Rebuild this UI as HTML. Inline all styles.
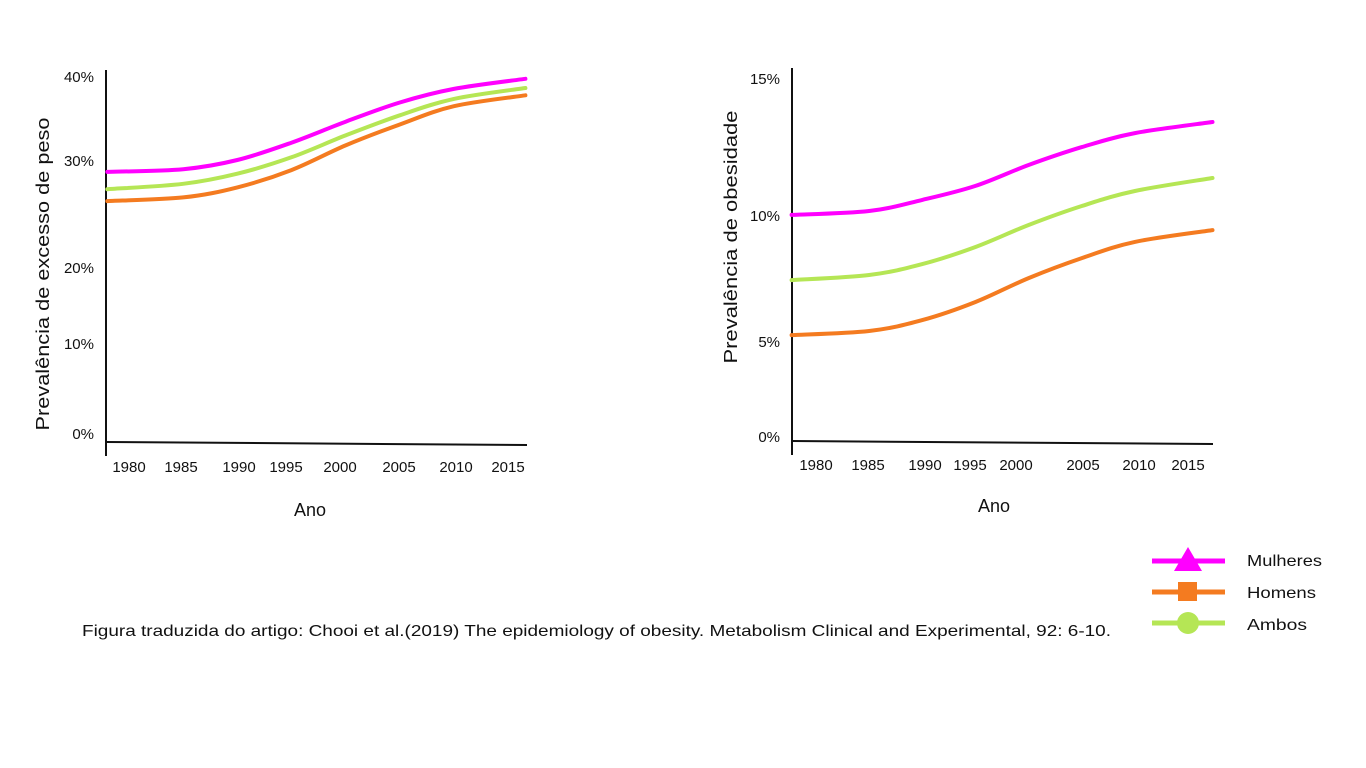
<!DOCTYPE html>
<html><head><meta charset="utf-8">
<style>
html,body{margin:0;padding:0;background:#fff;}
svg{display:block;font-family:"Liberation Sans",sans-serif;}
text{fill:#111;}
</style></head>
<body>
<svg id="chart" width="1366" height="768" viewBox="0 0 1366 768" xmlns="http://www.w3.org/2000/svg">
<g id="left"></g>
<g id="right"></g>
<g>
  <g>
    <line x1="1152" y1="561" x2="1225" y2="561" stroke="#ff00ff" stroke-width="5"/>
    <polygon points="1188,547 1202,571 1174,571" fill="#ff00ff"/>
    <text x="1247" y="566" font-size="16" textLength="75" lengthAdjust="spacingAndGlyphs">Mulheres</text>
  </g>
  <g>
    <line x1="1152" y1="592" x2="1225" y2="592" stroke="#f47b20" stroke-width="5"/>
    <rect x="1178" y="582" width="19" height="19" fill="#f47b20"/>
    <text x="1247" y="598" font-size="16" textLength="69" lengthAdjust="spacingAndGlyphs">Homens</text>
  </g>
  <g>
    <line x1="1152" y1="623" x2="1225" y2="623" stroke="#b5e655" stroke-width="5"/>
    <circle cx="1188" cy="623" r="11" fill="#b5e655"/>
    <text x="1247" y="630" font-size="16" textLength="60" lengthAdjust="spacingAndGlyphs">Ambos</text>
  </g>
</g>
<text x="82" y="636" font-size="16" textLength="1029" lengthAdjust="spacingAndGlyphs">Figura traduzida do artigo: Chooi et al.(2019) The epidemiology of obesity. Metabolism Clinical and Experimental, 92: 6-10.</text>
</svg>
<script>
const years = [1978, 1985, 1990, 1995, 2000, 2005, 2010, 2016.6];
const leftMulheres = [29.6, 29.9, 30.9, 32.8, 35.1, 37.2, 38.7, 39.8];
const leftAmbos = [27.7, 28.3, 29.4, 31.2, 33.6, 35.8, 37.6, 38.8];
const leftHomens = [26.4, 26.8, 27.9, 29.8, 32.5, 34.8, 36.8, 38.0];
const yearsR = [1977.7, 1985, 1990, 1995, 2000, 2005, 2010, 2017.3];
const rightMulheres = [9.37, 9.53, 9.99, 10.57, 11.44, 12.18, 12.76, 13.22];
const rightAmbos = [6.67, 6.88, 7.33, 8.04, 8.95, 9.74, 10.36, 10.90];
const rightHomens = [4.39, 4.56, 5.01, 5.76, 6.75, 7.58, 8.25, 8.74];
const xTickLabels = ["1980","1985","1990","1995","2000","2005","2010","2015"];
const leftYTickLabels = ["40%","30%","20%","10%","0%"];
const rightYTickLabels = ["15%","10%","5%","0%"];

const NS = "http://www.w3.org/2000/svg";
function mk(parent, tag, attrs, txt){
  const e = document.createElementNS(NS, tag);
  for (const k in attrs) e.setAttribute(k, attrs[k]);
  if (txt !== undefined) e.textContent = txt;
  parent.appendChild(e);
  return e;
}
function smooth(pts){
  let d = "M" + pts[0][0] + "," + pts[0][1];
  for (let i = 0; i < pts.length - 1; i++){
    const p0 = pts[i-1] || pts[i], p1 = pts[i], p2 = pts[i+1], p3 = pts[i+2] || p2;
    const c1 = [p1[0] + (p2[0]-p0[0])/6, p1[1] + (p2[1]-p0[1])/6];
    const c2 = [p2[0] - (p3[0]-p1[0])/6, p2[1] - (p3[1]-p1[1])/6];
    d += " C" + c1.join(",") + " " + c2.join(",") + " " + p2.join(",");
  }
  return d;
}
function draw(g, cfg){
  const xs = y => cfg.x0 + (y - 1980) * cfg.xk;
  const ys = v => cfg.y0 - v * cfg.yk;
  const yAxis = mk(g, "line", {x1:cfg.ax, y1:cfg.top, x2:cfg.ax, y2:cfg.bot, stroke:"#111", "stroke-width":2});
  
  
  const xAxis = mk(g, "line", {x1:cfg.ax, y1:cfg.y0, x2:cfg.right, y2:cfg.y0 + 3, stroke:"#111", "stroke-width":2});
  
  
  cfg.yLabels.forEach((t, i) => {
    const e = mk(g, "text", {x:cfg.ax - 12, y:cfg.yLabelY[i], "font-size":15, "text-anchor":"end"}, t);
    
    
  });
  xTickLabels.forEach((t, i) => {
    const e = mk(g, "text", {x:cfg.xLabelX[i], y:cfg.xLabelY, "font-size":15, "text-anchor":"middle"}, t);
    
    
  });
  const xt = mk(g, "text", {x:cfg.xTitleX, y:cfg.xTitleY, "font-size":18, "text-anchor":"middle"}, "Ano");
  
  
  const yt = mk(g, "text", {x:0, y:0, "font-size":18, "text-anchor":"middle", textLength:cfg.yTitleLen, lengthAdjust:"spacingAndGlyphs", transform:"translate(" + cfg.yTitleX + "," + cfg.yTitleY + ") rotate(-90)"}, cfg.yTitle);
  
  
  cfg.series.forEach(s => {
    const pts = cfg.years.map((yr, i) => [xs(yr).toFixed(1), ys(s.vals[i]).toFixed(1)].map(Number));
    const p = mk(g, "path", {d:smooth(pts), fill:"none", stroke:s.color, "stroke-width":4, "stroke-linecap":"round"});
    
    
  });
}
draw(document.getElementById("left"), {
  x0:129, xk:10.83, y0:442, yk:9.125, ax:106, top:70, bot:456, right:527,
  yLabels:leftYTickLabels, yLabelY:[82,166,273,349,439],
  xLabelX:[129,181,239,286,340,399,456,508], xLabelY:472,
  xTitleX:310, xTitleY:516, yTitleX:49, yTitleY:274, yTitleLen:313,
  yTitle:"Prevalência de excesso de peso", years:years,
  series:[{name:"mulheres",color:"#ff00ff",vals:leftMulheres},
          {name:"ambos",color:"#b5e655",vals:leftAmbos},
          {name:"homens",color:"#f47b20",vals:leftHomens}]
});
draw(document.getElementById("right"), {
  x0:816, xk:10.63, y0:441, yk:24.13, ax:792, top:68, bot:455, right:1213,
  yLabels:rightYTickLabels, yLabelY:[84,221,347,442],
  xLabelX:[816,868,925,970,1016,1083,1139,1188], xLabelY:470,
  xTitleX:994, xTitleY:512, yTitleX:737, yTitleY:237, yTitleLen:253,
  yTitle:"Prevalência de obesidade", years:yearsR,
  series:[{name:"mulheres",color:"#ff00ff",vals:rightMulheres},
          {name:"ambos",color:"#b5e655",vals:rightAmbos},
          {name:"homens",color:"#f47b20",vals:rightHomens}]
});
</script>
</body></html>
